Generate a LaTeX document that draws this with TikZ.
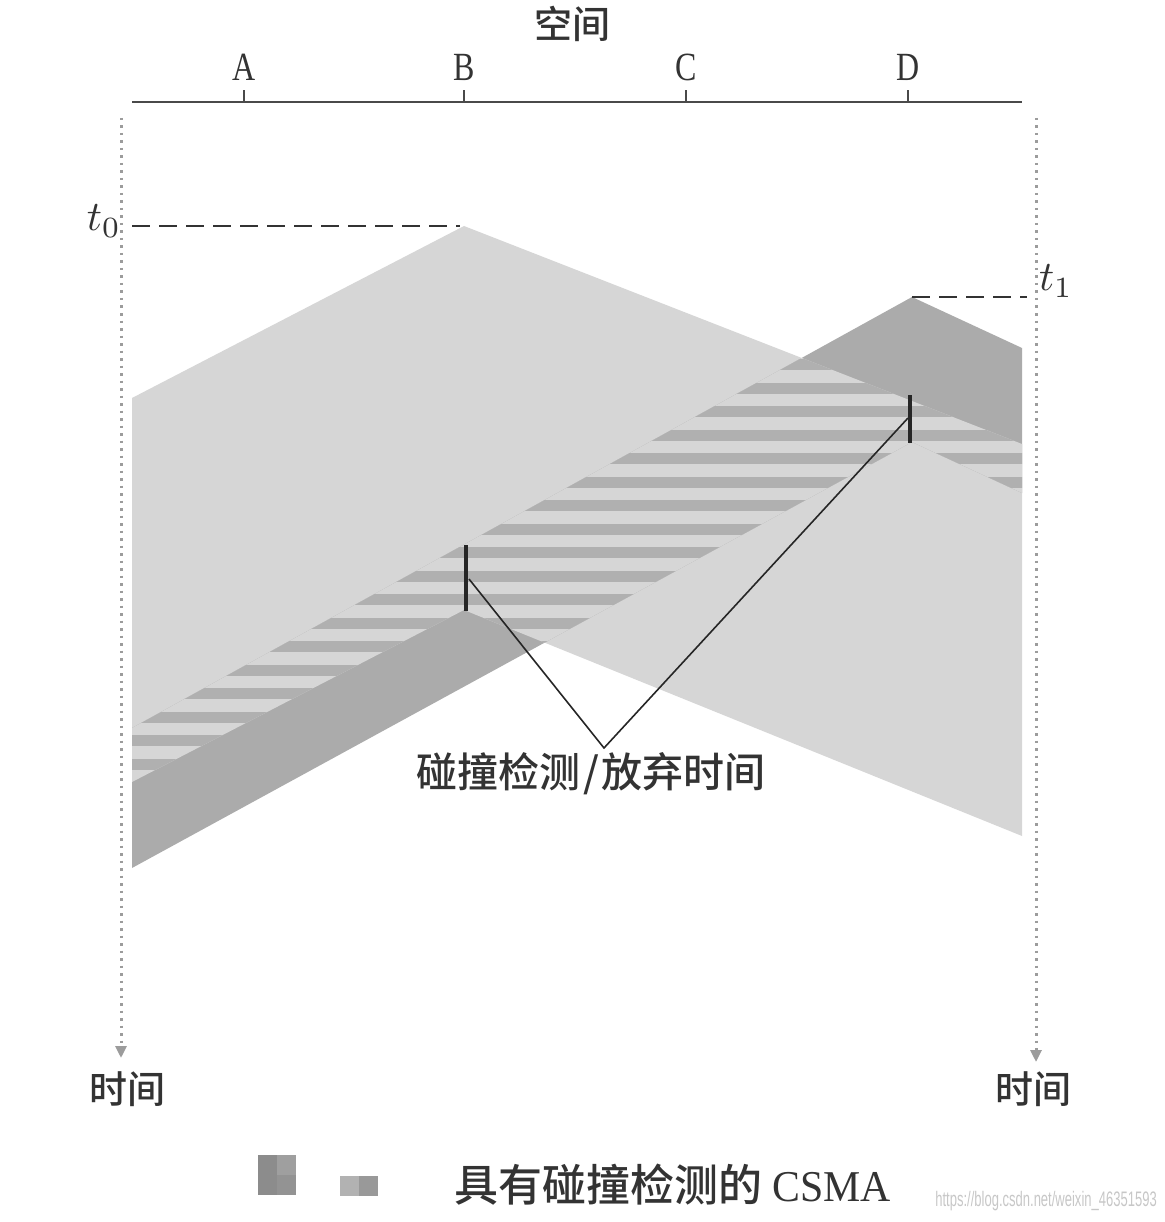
\documentclass[tikz,border=0pt]{standalone}
\usepackage{fontspec}
\setmainfont{Liberation Serif}
\newfontfamily\cjk{Noto Sans CJK SC}[UprightFont={* Medium}]
\newfontfamily\wmfont{Liberation Sans}
\usetikzlibrary{arrows.meta}
\definecolor{lightB}{HTML}{D6D6D6}
\definecolor{darkD}{HTML}{ABABAB}
\definecolor{stripeC}{HTML}{B0B0B0}
\definecolor{axisc}{HTML}{4A4A4A}
\definecolor{dotc}{HTML}{9C9C9C}
\definecolor{txtc}{HTML}{333333}
\begin{document}
\begin{tikzpicture}[x=1pt,y=-1pt,
  cjklbl/.style={inner sep=0pt, text=txtc, font=\cjk\fontsize{38}{44}\selectfont},
  letlbl/.style={inner sep=0pt, text=txtc, font=\fontsize{40}{46}\selectfont},
  axisline/.style={draw=axisc, line width=2.5pt},
  timeline/.style={draw=dotc, line width=3pt, dash pattern=on 2.5pt off 5pt, -{Triangle[length=12pt,width=11pt]}},
  markline/.style={draw=txtc, line width=2.5pt, dash pattern=on 18pt off 9pt},
  bar/.style={draw=black!85, line width=3.5pt},
  pointer/.style={draw=black!85, line width=1.6pt},
  tlbl/.style={inner sep=0pt, text=txtc},
  ]
\useasboundingbox (0,0) rectangle (1164,1222);

% signal bands of B and D
\def\Bband{(132,398) -- (464,226) -- (1022,444) -- (1022,836) -- (464,610) -- (132,782) -- cycle}
\def\Dband{(132,728) -- (912,297) -- (1022,348) -- (1022,493) -- (912,442) -- (132,868) -- cycle}
\path[fill=lightB] \Bband;
\path[fill=darkD] \Dband;
\begin{scope}
  \clip \Bband;
  \clip \Dband;
  \fill[lightB] (120,200) rectangle (1030,900);
  \foreach \k in {-10,...,11} {
    \fill[stripeC] (120,{547+\k*23.5}) rectangle (1030,{558+\k*23.5});
  }
\end{scope}

% axis
\draw[axisline] (132,102) coordinate (ax0) -- (1022,102) coordinate (ax1);
\foreach \n/\x in {A/244,B/464,C/686,D/908} {
  \draw[axisline] (\x,102) -- (\x,90) coordinate (tick\n);
  \node[letlbl, anchor=base] (lab\n) at (\x,81) {\scalebox{0.8}[1]{\n}};
}
\node[cjklbl] (space) at (572,24) {空间};

% time lines
\draw[timeline] (121,118) coordinate (tl0) -- (121,1058) coordinate (tl1);
\draw[timeline] (1036,118) coordinate (tr0) -- (1036,1062) coordinate (tr1);
\node[cjklbl] (timeL) at (127,1089) {时间};
\node[cjklbl] (timeR) at (1033,1089) {时间};

% t0, t1
\node[tlbl] (t0) at (104,221) {\scalebox{4.2}{$t_0$}};
\node[tlbl] (t1) at (1056,281) {\scalebox{4.2}{$t_1$}};
\coordinate (apexB) at (460,226);
\coordinate (apexD) at (912,297);
\draw[markline] (132,226) -- (apexB);
\draw[markline] (apexD) -- (1027,297);

% collision detect bars
\draw[bar] (466,545) coordinate (barBtop) -- (466,611) coordinate (barBbot);
\draw[bar] (910,395) coordinate (barDtop) -- (910,443) coordinate (barDbot);
\coordinate (pB) at (469,579);
\coordinate (pD) at (908,418);
\coordinate (vtip) at (604,748);
\draw[pointer] (pB) -- (vtip) -- (pD);
\node[inner sep=0pt, text=txtc, font=\cjk\fontsize{41}{46}\selectfont, anchor=north] (lbl) at (591,752) {碰撞检测\hspace{3pt}/\hspace{3pt}放弃时间};

% caption
\fill[gray!90] (258,1155) rectangle (277,1195);
\fill[gray!75] (277,1155) rectangle (296,1175);
\fill[gray!85] (277,1175) rectangle (296,1195);
\fill[gray!60] (340,1176) rectangle (359,1196);
\fill[gray!80] (359,1176) rectangle (378,1196);
\node[inner sep=0pt, text=txtc, anchor=west] (cap) at (454,1185)
  {{\cjk\fontsize{44}{50}\selectfont 具有碰撞检测的}\hspace{10pt}{\fontsize{44}{50}\selectfont\scalebox{0.95}[1]{CSMA}}};
\node[inner sep=0pt, text=black!22, anchor=east] (wm) at (1157,1201)
  {\scalebox{0.62}[1]{\wmfont\fontsize{21}{24}\selectfont https://blog.csdn.net/weixin\_46351593}};
\end{tikzpicture}
\end{document}
